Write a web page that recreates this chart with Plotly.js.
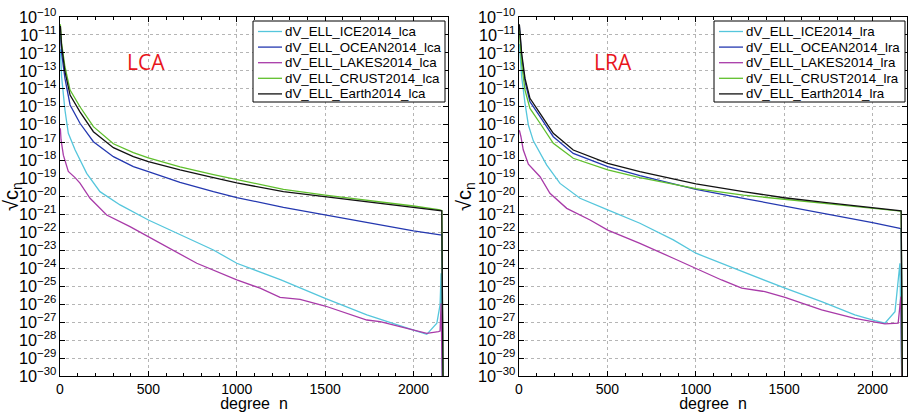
<!DOCTYPE html>
<html>
<head>
<meta charset="utf-8">
<script src="https://cdn.plot.ly/plotly-3.0.1.min.js"></script>
<style>html,body{margin:0;padding:0;background:#fff;}#chart{width:908px;height:412px;}</style>
</head>
<body>
<div id="chart"></div>
<script>
// ---- LCA panel (degree n, log10 of sqrt(c_n)) ----
const lcaCrustN   = [2, 9, 28, 57, 113, 189, 302, 415, 500, 679, 868, 1000, 1264, 1500, 1736, 2000, 2151, 2160, 2168];
const lcaCrustExp = [-10.4, -11.47, -12.77, -14.07, -15.0, -16.11, -17.06, -17.56, -17.85, -18.35, -18.78, -19.06, -19.6, -19.92, -20.2, -20.53, -20.75, -20.79, -32];
const lcaEarthN   = [2, 9, 28, 57, 113, 189, 302, 415, 500, 679, 868, 1000, 1264, 1500, 1736, 2000, 2151, 2160, 2168];
const lcaEarthExp = [-10.5, -11.6, -13.05, -14.35, -15.28, -16.39, -17.28, -17.78, -18.06, -18.52, -18.95, -19.24, -19.73, -20.01, -20.29, -20.57, -20.79, -20.8, -32];
const lcaOceanN   = [2, 9, 28, 57, 113, 189, 302, 415, 500, 679, 868, 1000, 1264, 1500, 1736, 2000, 2151, 2160, 2168];
const lcaOceanExp = [-10.9, -12.0, -13.42, -14.9, -15.92, -16.95, -17.78, -18.34, -18.62, -19.21, -19.73, -20.06, -20.6, -21.03, -21.46, -21.92, -22.14, -22.14, -32];
const lcaIceN     = [2, 9, 28, 47, 85, 113, 151, 226, 340, 500, 679, 868, 1000, 1250, 1500, 1736, 2000, 2075, 2132, 2150, 2156, 2165];
const lcaIceExp   = [-11.8, -13.32, -15.18, -16.48, -17.4, -17.97, -18.71, -19.73, -20.47, -21.31, -22.14, -22.98, -23.72, -24.65, -25.67, -26.6, -27.44, -27.68, -27.06, -26.04, -24.28, -32];
const lcaLakesN   = [2, 6, 19, 47, 85, 113, 170, 264, 396, 500, 641, 774, 1000, 1132, 1245, 1358, 1500, 1736, 1811, 2000, 2075, 2141, 2150, 2156, 2165];
const lcaLakesExp = [-16.2, -16.85, -17.7, -18.6, -18.95, -19.25, -20.1, -21.03, -21.68, -22.24, -22.98, -23.72, -24.65, -25.11, -25.62, -25.73, -26.1, -26.88, -26.97, -27.44, -27.62, -27.53, -27.5, -25.95, -32];

// ---- LRA panel ----
const lraEarthN   = [2, 15, 34, 62, 119, 194, 307, 502, 684, 873, 1001, 1269, 1500, 1740, 2000, 2155, 2162, 2170];
const lraEarthExp = [-10.4, -12.02, -13.42, -14.53, -15.37, -16.48, -17.41, -18.15, -18.62, -19.03, -19.3, -19.73, -20.07, -20.34, -20.6, -20.79, -20.8, -32];
const lraOceanN   = [2, 15, 34, 62, 119, 194, 307, 502, 684, 873, 1001, 1269, 1500, 1740, 2000, 2155, 2162, 2170];
const lraOceanExp = [-10.5, -12.2, -13.6, -14.72, -15.55, -16.67, -17.6, -18.34, -18.84, -19.27, -19.6, -20.1, -20.53, -20.94, -21.46, -21.77, -21.78, -32];
const lraCrustN   = [2, 15, 34, 62, 119, 194, 307, 502, 684, 873, 1001, 1269, 1500, 1740, 2000, 2155, 2162, 2170];
const lraCrustExp = [-10.7, -12.6, -14.07, -15.09, -15.92, -17.04, -17.87, -18.52, -18.95, -19.32, -19.56, -19.92, -20.16, -20.42, -20.66, -20.81, -20.82, -32];
const lraIceN     = [2, 15, 34, 53, 81, 119, 157, 232, 345, 502, 684, 873, 1001, 1240, 1505, 1712, 1900, 2014, 2070, 2127, 2155, 2168];
const lraIceExp   = [-11.5, -13.32, -14.81, -16.02, -16.9, -17.6, -18.25, -19.27, -20.1, -20.75, -21.49, -22.42, -23.16, -24.09, -25.11, -25.86, -26.6, -26.92, -27.06, -26.42, -23.72, -32];
const lraLakesN   = [2, 11, 24, 53, 119, 175, 270, 402, 502, 684, 873, 995, 1146, 1260, 1391, 1505, 1712, 1900, 2070, 2145, 2160, 2168];
const lraLakesExp = [-16.3, -16.67, -17.4, -18.2, -18.9, -19.82, -20.66, -21.31, -21.87, -22.61, -23.44, -24.0, -24.65, -25.11, -25.3, -25.62, -26.32, -26.79, -27.1, -27.06, -25.58, -32];

const xTickVals = [0, 500, 1000, 1500, 2000];
const panelLabels = ['LCA', 'LRA'];
const lcaNames = ['dV_ELL_ICE2014_lca', 'dV_ELL_OCEAN2014_lca', 'dV_ELL_LAKES2014_lca', 'dV_ELL_CRUST2014_lca', 'dV_ELL_Earth2014_lca'];
const lraNames = ['dV_ELL_ICE2014_lra', 'dV_ELL_OCEAN2014_lra', 'dV_ELL_LAKES2014_lra', 'dV_ELL_CRUST2014_lra', 'dV_ELL_Earth2014_lra'];
const colors = ['#55c6dc', '#2438b0', '#a83aa8', '#5fbf2c', '#111111'];

const toVal = e => e.map(v => Math.pow(10, v));
function tr(n, e, name, color, ax) {
  return {x:n, y:toVal(e), name:name, type:'scatter', mode:'lines', showlegend:false,
          line:{color:color, width:1.3}, xaxis:ax.x, yaxis:ax.y};
}
const A1 = {x:'x', y:'y'}, A2 = {x:'x2', y:'y2'};
const data = [
  tr(lcaIceN, lcaIceExp, lcaNames[0], colors[0], A1),
  tr(lcaOceanN, lcaOceanExp, lcaNames[1], colors[1], A1),
  tr(lcaLakesN, lcaLakesExp, lcaNames[2], colors[2], A1),
  tr(lcaCrustN, lcaCrustExp, lcaNames[3], colors[3], A1),
  tr(lcaEarthN, lcaEarthExp, lcaNames[4], colors[4], A1),
  tr(lraIceN, lraIceExp, lraNames[0], colors[0], A2),
  tr(lraOceanN, lraOceanExp, lraNames[1], colors[1], A2),
  tr(lraLakesN, lraLakesExp, lraNames[2], colors[2], A2),
  tr(lraCrustN, lraCrustExp, lraNames[3], colors[3], A2),
  tr(lraEarthN, lraEarthExp, lraNames[4], colors[4], A2)
];

const W = 908, H = 412, T = 17, B = 36;
const ph = H - T - B;
const FAM = '"Liberation Sans", Arial, sans-serif';

function xax(dom, anchor) {
  return {domain:dom, anchor:anchor, range:[0, 2195], tickvals:xTickVals, ticktext:xTickVals.map(String),
    ticks:'inside', ticklen:5, tickcolor:'#000', mirror:'allticks', showline:true, linecolor:'#000', linewidth:1,
    showgrid:true, gridcolor:'#b5b5b5', griddash:'dot', gridwidth:1, zeroline:false,
    minor:{dtick:100, tick0:0, ticks:'inside', ticklen:3, tickcolor:'#000', showgrid:false},
    tickfont:{size:14, family:FAM, color:'#000'},
    title:{text:'degree  n', font:{size:16, family:FAM, color:'#000'}, standoff:1},
    automargin:false};
}
function yax(anchor) {
  return {type:'log', anchor:anchor, domain:[0,1], range:[-30, -10], dtick:1, exponentformat:'power', showexponent:'all',
    ticks:'inside', ticklen:5, tickcolor:'#000', mirror:'allticks', showline:true, linecolor:'#000', linewidth:1,
    showgrid:true, gridcolor:'#b5b5b5', griddash:'dot', gridwidth:1, zeroline:false,
    tickfont:{size:13, family:FAM, color:'#000'},
    title:{text:'\u221Ac<sub>n</sub>', font:{size:20, family:FAM, color:'#000'}, standoff:0},
    automargin:false};
}
const py = p => (H - B - p) / ph;

// legend boxes drawn as shapes + text annotations
const shapes = [], annotations = [];
function legendBox(x0, width, names) {
  shapes.push({type:'rect', xref:'paper', yref:'paper', x0:x0 / W, x1:(x0 + width) / W, y0:py(102), y1:py(21),
               line:{color:'#000', width:1}, fillcolor:'#fff', layer:'above'});
  names.forEach((nm, i) => {
    const yy = py(31.5 + i * 15.6);
    shapes.push({type:'line', xref:'paper', yref:'paper', x0:(x0 + 5) / W, x1:(x0 + 29) / W, y0:yy, y1:yy,
                 line:{color:colors[i], width:1.3}, layer:'above'});
    annotations.push({text:nm, xref:'paper', yref:'paper', x:(x0 + 30) / W, y:yy, xanchor:'left', yanchor:'middle',
                      showarrow:false, font:{size:13.3, family:FAM, color:'#000'}});
  });
}
legendBox(253, 192, lcaNames);
legendBox(714, 191, lraNames);
annotations.push({text:panelLabels[0], xref:'paper', yref:'paper', x:146 / W, y:py(62), xanchor:'center', yanchor:'middle',
  showarrow:false, font:{size:21, color:'#e8161c', family:'"Open Sans", "Liberation Sans", sans-serif'}});
annotations.push({text:panelLabels[1], xref:'paper', yref:'paper', x:613 / W, y:py(62), xanchor:'center', yanchor:'middle',
  showarrow:false, font:{size:21, color:'#e8161c', family:'"Open Sans", "Liberation Sans", sans-serif'}});

const layout = {
  width:W, height:H, margin:{l:0, r:0, t:T, b:B}, paper_bgcolor:'#fff', plot_bgcolor:'#fff',
  font:{family:FAM, color:'#000'}, showlegend:false,
  xaxis:xax([60 / W, 448 / W], 'y'), yaxis:yax('x'),
  xaxis2:xax([519 / W, 907 / W], 'y2'), yaxis2:yax('x2'),
  shapes:shapes, annotations:annotations
};
Plotly.newPlot('chart', data, layout, {displayModeBar:false, staticPlot:true});
</script>
</body>
</html>
